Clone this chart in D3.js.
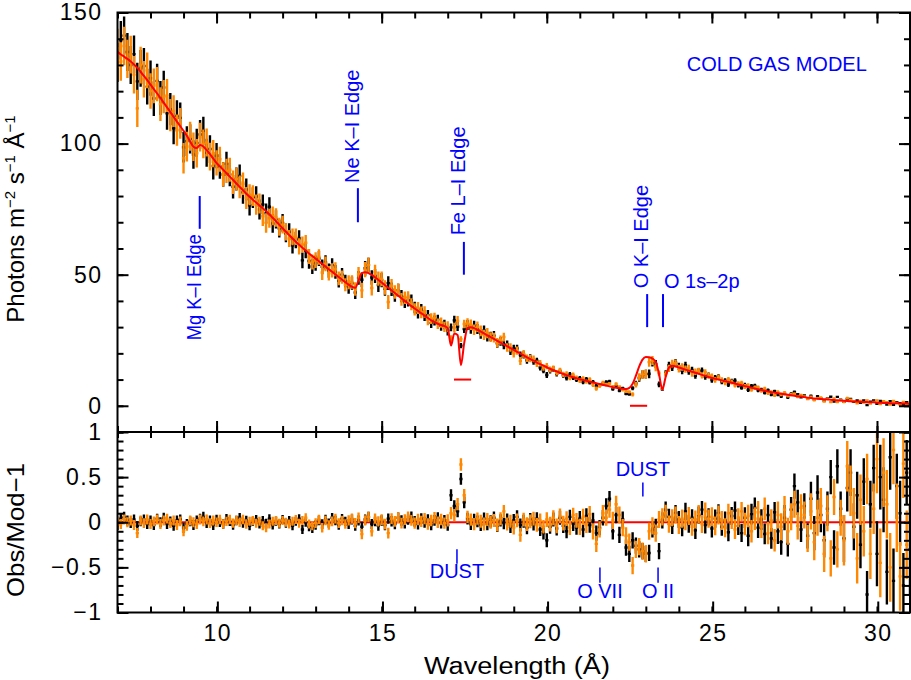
<!DOCTYPE html>
<html>
<head>
<meta charset="utf-8">
<script src="https://cdn.jsdelivr.net/npm/d3@7/dist/d3.min.js"></script>
<style>
  body { margin: 0; background: #fff; }
  text { font-family: "Liberation Sans", Arial, Helvetica, sans-serif; }
</style>
</head>
<body>
<svg id="chart" width="911" height="680"></svg>
<script>
// spectral bins: 0.1 A wide, starting at 7 A
const waveStart = 7.0;
const waveStep = 0.1;

// cold gas model, photons m^-2 s^-1 A^-1, one value per bin
const modelFlux = [
  135.0, 134.0, 133.2, 132.3, 131.3, 130.2, 128.9, 127.4, 125.8, 124.2,
  122.5, 120.8, 119.1, 117.4, 115.6, 113.8, 112.0, 110.2, 108.4, 106.6,
  104.9, 103.0, 100.8, 98.8, 98.3, 99.5, 98.9, 97.5, 96.0, 94.3,
  92.6, 91.3, 90.0, 88.7, 87.4, 86.1, 84.8, 83.5, 82.2, 80.9,
  79.7, 78.6, 77.5, 76.4, 75.3, 74.2, 73.0, 71.7, 70.4, 69.0,
  67.7, 66.4, 65.1, 63.8, 62.6, 61.4, 60.3, 59.2, 58.1, 57.1,
  56.1, 55.1, 54.1, 53.1, 52.1, 51.1, 50.1, 49.1, 48.1, 47.1,
  46.2, 45.4, 45.0, 47.8, 50.6, 50.9, 50.6, 49.9, 49.0, 48.0,
  47.0, 46.0, 45.0, 44.0, 43.0, 42.0, 41.0, 40.0, 39.0, 38.0,
  37.1, 36.2, 35.3, 34.4, 33.5, 32.6, 31.9, 31.3, 30.8, 30.4,
  29.6, 23.0, 27.6, 27.0, 15.5, 24.0, 29.6, 30.0, 29.6, 29.0,
  28.3, 27.6, 26.9, 26.2, 25.5, 24.8, 24.1, 23.4, 22.7, 22.0,
  21.3, 20.6, 19.9, 19.2, 18.5, 17.8, 17.2, 16.5, 15.9, 15.3,
  14.7, 14.1, 13.6, 13.1, 12.6, 12.1, 11.7, 11.3, 10.9, 10.5,
  10.1, 9.8, 9.5, 9.2, 8.9, 8.6, 8.3, 8.0, 7.7, 7.4,
  7.1, 6.9, 6.7, 6.5, 6.4, 6.8, 8.4, 11.5, 15.0, 17.6,
  18.6, 18.5, 18.0, 16.8, 12.0, 6.2, 11.0, 14.6, 15.3, 15.0,
  14.6, 14.2, 13.8, 13.4, 13.0, 12.6, 12.2, 11.8, 11.4, 11.0,
  10.6, 10.3, 10.0, 9.7, 9.4, 9.1, 8.8, 8.5, 8.1, 7.8,
  7.5, 7.2, 6.9, 6.6, 6.3, 6.0, 5.7, 5.5, 5.2, 5.0,
  4.8, 4.6, 4.4, 4.2, 4.0, 3.8, 3.6, 3.5, 3.3, 3.1,
  3.0, 2.8, 2.7, 2.6, 2.5, 2.4, 2.3, 2.2, 2.1, 2.0,
  1.9, 1.8, 1.7, 1.6, 1.6, 1.5, 1.4, 1.4, 1.3, 1.3,
  1.2, 1.2, 1.1, 1.1, 1.0, 1.0, 1.0, 0.9, 0.9, 0.9,
  0.8,
];

// Obs/Mod-1 for the black data set
const blackResid = [
  -0.03, 0.04, 0.06, 0.02, -0.01, 0.03, -0.04, 0.01, 0.03, -0.02,
  0.02, -0.03, 0.04, 0.00, 0.05, -0.02, 0.01, -0.04, 0.02, 0.03,
  -0.06, -0.02, 0.01, -0.03, 0.02, 0.04, 0.06, -0.01, 0.02, -0.03,
  0.03, 0.00, -0.02, 0.04, 0.01, -0.03, 0.02, 0.05, -0.01, 0.02,
  -0.04, 0.01, 0.03, -0.02, 0.02, -0.01, 0.04, -0.03, 0.01, -0.02,
  0.03, -0.01, 0.02, -0.04, 0.01, 0.04, -0.08, 0.00, -0.05, -0.07,
  -0.03, 0.02, -0.02, 0.03, -0.01, 0.05, 0.02, -0.03, 0.04, 0.01,
  -0.02, 0.03, -0.04, 0.02, -0.05, 0.03, 0.06, -0.02, 0.01, -0.04,
  0.02, -0.03, 0.04, 0.01, -0.02, 0.05, 0.02, -0.01, 0.03, 0.06,
  0.01, -0.02, 0.04, 0.00, 0.03, -0.03, 0.02, 0.05, -0.01, 0.02,
  -0.03, 0.30, 0.18, 0.12, 0.48, 0.22, 0.04, -0.02, 0.03, 0.01,
  -0.03, 0.04, -0.02, 0.01, 0.05, -0.04, 0.02, -0.01, 0.03, -0.05,
  0.02, 0.06, -0.03, 0.01, -0.06, 0.03, -0.02, 0.04, -0.08, -0.12,
  -0.20, -0.05, 0.03, -0.07, 0.05, -0.04, -0.10, 0.06, -0.02, -0.06,
  0.04, -0.08, 0.07, -0.03, 0.02, -0.12, -0.06, 0.05, 0.18, 0.26,
  -0.10, 0.08, -0.14, 0.03, -0.28, -0.35, -0.20, -0.26, -0.30, -0.32,
  -0.35, -0.34, -0.08, -0.05, -0.32, 0.02, 0.14, 0.06, -0.04, 0.10,
  0.03, -0.06, 0.12, -0.02, 0.05, -0.09, 0.08, 0.14, -0.03, 0.06,
  -0.07, 0.04, 0.10, -0.05, 0.02, -0.11, 0.07, 0.13, -0.04, -0.12,
  0.05, -0.15, 0.09, 0.16, -0.06, 0.03, -0.13, 0.08, -0.18, 0.11,
  -0.10, -0.22, 0.05, -0.24, 0.14, 0.40, 0.22, -0.08, 0.18, -0.15,
  0.26, -0.12, 0.33, 0.08, -0.20, 0.15, 0.50, -0.28, 0.62, 0.15,
  -0.18, 0.38, 0.55, -0.05, 0.30, -0.25, 0.45, -0.80, 0.20, 0.60,
  -0.35, 0.50, 0.25, -0.55, 0.72, -0.65, 0.40, 0.10, -0.70, 0.55,
  -0.30,
];

// Obs/Mod-1 for the orange data set
const orangeResid = [
  0.01, -0.02, 0.03, 0.00, 0.02, -0.03, -0.12, 0.02, -0.01, 0.03,
  -0.02, 0.01, 0.03, -0.02, 0.02, 0.04, -0.01, 0.02, -0.03, 0.01,
  -0.10, -0.04, 0.02, 0.00, -0.02, 0.03, 0.01, 0.03, -0.01, 0.02,
  0.00, 0.03, -0.02, 0.01, 0.03, -0.01, 0.02, 0.00, 0.03, -0.02,
  0.01, 0.02, -0.01, 0.01, -0.04, -0.06, -0.02, 0.01, 0.02, -0.01,
  0.02, 0.00, -0.02, 0.01, 0.03, -0.01, 0.02, 0.05, -0.02, -0.04,
  -0.01, 0.03, -0.06, 0.02, -0.03, 0.01, 0.04, -0.01, 0.02, -0.02,
  0.02, 0.04, -0.01, 0.05, -0.13, 0.02, 0.06, -0.10, 0.04, 0.01,
  0.03, -0.02, -0.12, 0.04, 0.01, 0.05, -0.01, 0.03, 0.06, 0.02,
  -0.01, 0.03, 0.01, 0.04, -0.02, 0.02, 0.05, 0.00, 0.03, -0.01,
  0.02, 0.10, 0.08, 0.20, 0.64, 0.30, 0.06, 0.03, -0.02, 0.04,
  0.01, -0.02, 0.03, 0.00, 0.02, -0.03, 0.04, 0.12, -0.02, 0.01,
  -0.06, 0.02, -0.14, 0.03, -0.02, 0.01, 0.04, -0.03, 0.02, -0.05,
  0.03, -0.02, 0.05, -0.04, 0.07, -0.01, 0.04, -0.06, 0.08, 0.02,
  -0.05, 0.06, -0.03, 0.09, -0.10, -0.24, -0.08, 0.10, 0.05, 0.14,
  0.02, 0.20, 0.08, -0.06, -0.15, -0.22, -0.48, -0.30, -0.27, -0.32,
  -0.35, -0.10, -0.04, -0.12, 0.03, 0.06, 0.10, -0.02, 0.05, 0.08,
  -0.03, 0.04, 0.01, 0.07, -0.05, 0.03, 0.09, -0.02, 0.12, 0.04,
  0.06, -0.04, 0.08, 0.02, -0.06, 0.10, 0.03, -0.08, 0.05, 0.12,
  -0.02, 0.07, -0.10, 0.04, 0.11, -0.05, 0.15, -0.12, 0.02, -0.20,
  0.08, -0.05, 0.14, -0.10, 0.06, 0.20, -0.04, 0.16, 0.08, -0.18,
  0.12, -0.22, 0.05, 0.18, -0.35, 0.10, -0.40, 0.28, -0.30, 0.05,
  -0.20, 0.62, 0.35, 0.10, -0.40, 0.25, -0.10, 0.48, -0.35, 0.15,
  0.70, -0.45, 0.55, 0.20, -0.50, 0.80, 0.05, -0.60, 0.65, -0.25,
  0.40,
];

// fractional 1-sigma errors, one value per whole angstrom from 7 to 31
const errStart = 7;
const blackRelErr = [0.055, 0.055, 0.055, 0.052, 0.05, 0.05, 0.052, 0.055, 0.058, 0.06, 0.065, 0.068,
  0.072, 0.078, 0.085, 0.09, 0.09, 0.095, 0.1, 0.115, 0.14, 0.19, 0.26, 0.36, 0.5];
const orangeRelErr = [0.055, 0.055, 0.055, 0.052, 0.05, 0.05, 0.053, 0.057, 0.06, 0.063, 0.068, 0.072,
  0.076, 0.082, 0.09, 0.095, 0.095, 0.1, 0.105, 0.125, 0.15, 0.2, 0.28, 0.38, 0.5];

const waveTicks = [10, 15, 20, 25, 30];
const fluxTicks = [0, 50, 100, 150];
const residTicks = [-1, -0.5, 0, 0.5, 1];

// absorption edges marked in the upper panel
const edgeNames = ['Mg K\u2013I Edge', 'Ne K\u2013I Edge', 'Fe L\u2013I Edge', 'O K\u2013I Edge'];
const edgeWaves = [9.49, 14.28, 17.49, 23.04];
const edgeBarLow = [67.5, 70, 50, 30];
const edgeBarHigh = [80, 83, 62.5, 42.6];
const edgeTextFrom = [25, 85, 65, 44.8];

// features marked in the ratio panel
const residNames = ['DUST', 'DUST', 'O VII', 'O II'];
const residWaves = [17.28, 22.91, 21.61, 23.37];
const residBarLow = [-0.46, 0.285, -0.67, -0.67];
const residBarHigh = [-0.30, 0.44, -0.50, -0.50];
const residTextAt = [-0.623, 0.507, -0.834, -0.834];

const svg = d3.select('#chart');
const frameLeft = 117.5;
const frameRight = 910;
const frameTop = 12.5;
const frameSplit = 432;
const frameBottom = 612.5;

const x = d3.scaleLinear().domain([7, 31]).range([frameLeft, frameRight]);
const yFlux = d3.scaleLinear().domain([-10, 150]).range([frameSplit, frameTop]);
const yRes = d3.scaleLinear().domain([-1, 1]).range([frameBottom, frameSplit]);

const makeSeries = (resid, relErr) => resid.map((r, i) => {
    const wave = waveStart + i * waveStep;
    const model = modelFlux[i];
    const e = relErr[Math.floor(wave + 1e-6) - errStart];
    return {
        wave,
        flux: model * (1 + r),
        fluxErr: model * e,
        resid: r,
        residErr: e,
    };
});

const black = makeSeries(blackResid, blackRelErr);
const orange = makeSeries(orangeResid, orangeRelErr);
const bins = modelFlux.map((m, i) => ({ wave: waveStart + i * waveStep, model: m }));

// bin width + error bar for every point, as one path
const crossPath = (pts, y, val, err) => {
    const p = d3.path();
    pts.forEach((d) => {
        const yc = y(d[val]);
        p.moveTo(x(d.wave - waveStep / 2), yc);
        p.lineTo(x(d.wave + waveStep / 2), yc);
        p.moveTo(x(d.wave), y(d[val] - d[err]));
        p.lineTo(x(d.wave), y(d[val] + d[err]));
    });
    return p.toString();
};

const defs = svg.append('defs');
defs.append('clipPath').attr('id', 'clip-top')
    .append('rect').attr('x', frameLeft).attr('y', frameTop)
    .attr('width', frameRight - frameLeft).attr('height', frameSplit - frameTop);
defs.append('clipPath').attr('id', 'clip-bot')
    .append('rect').attr('x', frameLeft).attr('y', frameSplit)
    .attr('width', frameRight - frameLeft).attr('height', frameBottom - frameSplit);

const orangeCol = '#ff8800';
const dataWidth = 2.4;

// upper panel: data, then model on top
const topG = svg.append('g').attr('clip-path', 'url(#clip-top)');
topG.append('path').attr('d', crossPath(black, yFlux, 'flux', 'fluxErr'))
    .attr('stroke', '#000').attr('stroke-width', dataWidth).attr('fill', 'none');
topG.append('path').attr('d', crossPath(orange, yFlux, 'flux', 'fluxErr'))
    .attr('stroke', orangeCol).attr('stroke-width', dataWidth).attr('fill', 'none');
topG.append('path').datum(bins)
    .attr('d', d3.line().x((d) => x(d.wave)).y((d) => yFlux(d.model)).curve(d3.curveMonotoneX))
    .attr('stroke', '#ff0000').attr('stroke-width', 2).attr('fill', 'none');

// lower panel: unity line under the data
const botG = svg.append('g').attr('clip-path', 'url(#clip-bot)');
botG.append('path').datum(bins)
    .attr('d', d3.line().x((d) => x(d.wave)).y(() => yRes(0)))
    .attr('stroke', '#ff0000').attr('stroke-width', 2).attr('fill', 'none');
botG.append('path').attr('d', crossPath(black, yRes, 'resid', 'residErr'))
    .attr('stroke', '#000').attr('stroke-width', dataWidth).attr('fill', 'none');
botG.append('path').attr('d', crossPath(orange, yRes, 'resid', 'residErr'))
    .attr('stroke', orangeCol).attr('stroke-width', dataWidth).attr('fill', 'none');

// axes: every tick points into the frame
const addAxis = (axis, tx, ty) => svg.append('g')
    .attr('transform', `translate(${tx},${ty})`)
    .call(axis)
    .call((g) => g.select('.domain').remove())
    .call((g) => g.selectAll('line').attr('stroke', '#000').attr('stroke-width', 2))
    .call((g) => g.selectAll('text').attr('fill', '#000')
        .style('font-size', '23px')
        .style('letter-spacing', '1.5px')
        .style('font-family', '"Liberation Sans", Arial, sans-serif'));

const noLabel = () => '';
const minorWave = x.ticks(24);

[[frameTop, d3.axisTop], [frameSplit, d3.axisBottom], [frameSplit, d3.axisTop]].forEach(([ty, mk]) => {
    addAxis(mk(x).tickValues(waveTicks).tickSize(-11).tickFormat(noLabel), 0, ty);
    addAxis(mk(x).tickValues(minorWave).tickSize(-6).tickFormat(noLabel), 0, ty);
});
addAxis(d3.axisBottom(x).tickValues(waveTicks).tickSize(-11).tickPadding(12)
    .tickFormat(d3.format('d')), 0.8, frameBottom);
addAxis(d3.axisBottom(x).tickValues(minorWave).tickSize(-6).tickFormat(noLabel), 0, frameBottom);

addAxis(d3.axisLeft(yFlux).tickValues(fluxTicks).tickSize(-11).tickPadding(15)
    .tickFormat(d3.format('d')), frameLeft, 0);
addAxis(d3.axisLeft(yFlux).tickValues(yFlux.ticks(16)).tickSize(-6).tickFormat(noLabel), frameLeft, 0);
addAxis(d3.axisRight(yFlux).tickValues(fluxTicks).tickSize(-11).tickFormat(noLabel), frameRight, 0);
addAxis(d3.axisRight(yFlux).tickValues(yFlux.ticks(16)).tickSize(-6).tickFormat(noLabel), frameRight, 0);

addAxis(d3.axisLeft(yRes).tickValues(residTicks).tickSize(-11).tickPadding(15)
    .tickFormat(d3.format('')), frameLeft, 0);
addAxis(d3.axisLeft(yRes).tickValues(yRes.ticks(20)).tickSize(-6).tickFormat(noLabel), frameLeft, 0);
addAxis(d3.axisRight(yRes).tickValues(residTicks).tickSize(-11).tickFormat(noLabel), frameRight, 0);
addAxis(d3.axisRight(yRes).tickValues(yRes.ticks(20)).tickSize(-6).tickFormat(noLabel), frameRight, 0);

// frames
svg.append('rect').attr('x', frameLeft).attr('y', frameTop)
    .attr('width', frameRight - frameLeft).attr('height', frameBottom - frameTop)
    .attr('fill', 'none').attr('stroke', '#000').attr('stroke-width', 2);
svg.append('line').attr('x1', frameLeft).attr('x2', frameRight)
    .attr('y1', frameSplit).attr('y2', frameSplit)
    .attr('stroke', '#000').attr('stroke-width', 2);

// axis titles
svg.append('text').attr('x', 517).attr('y', 674)
    .attr('text-anchor', 'middle').style('font-size', '23px')
    .attr('textLength', 186).attr('lengthAdjust', 'spacingAndGlyphs')
    .text('Wavelength (\u00c5)');

const yTitle = svg.append('text')
    .attr('transform', `translate(24,219) rotate(-90)`)
    .attr('text-anchor', 'middle').style('font-size', '24px');
[['Photons m', 0], ['\u22122', 1], [' s', 0], ['\u22121', 1], [' \u00c5', 0], ['\u22121', 1]]
    .forEach(([t, sup]) => {
        yTitle.append('tspan').text(t)
            .attr('dy', sup ? -9 : (t === 'Photons m' ? 0 : 9))
            .style('font-size', sup ? '15px' : '24px');
    });

svg.append('text')
    .attr('transform', `translate(24,530) rotate(-90)`)
    .attr('text-anchor', 'middle').style('font-size', '24px')
    .attr('textLength', 134).attr('lengthAdjust', 'spacingAndGlyphs')
    .text('Obs/Mod\u22121');

// annotations
const blue = '#0000ff';
const note = svg.append('g').attr('fill', blue).style('font-size', '20px');

svg.append('text').attr('x', x(24.24)).attr('y', yFlux(127.7))
    .attr('fill', blue).style('font-size', '20px').text('COLD GAS MODEL');

edgeNames.forEach((name, i) => {
    const xe = x(edgeWaves[i]);
    svg.append('line').attr('x1', xe).attr('x2', xe)
        .attr('y1', yFlux(edgeBarLow[i])).attr('y2', yFlux(edgeBarHigh[i]))
        .attr('stroke', blue).attr('stroke-width', 2);
    const label = note.append('text')
        .attr('transform', `translate(${xe + 1},${yFlux(edgeTextFrom[i])}) rotate(-90)`)
        .text(name);
    // the Mg label sits below its marker and is set a little tighter
    if (i === 0) label.attr('textLength', 106).attr('lengthAdjust', 'spacingAndGlyphs');
});

// O 1s-2p resonance, labelled horizontally
const o1s = 23.52;
svg.append('line').attr('x1', x(o1s)).attr('x2', x(o1s))
    .attr('y1', yFlux(30)).attr('y2', yFlux(42.6))
    .attr('stroke', blue).attr('stroke-width', 2);
note.append('text').attr('x', x(23.55)).attr('y', yFlux(44.8)).text('O 1s\u20132p');

// model edge-depth markers
[[17.19, 17.71, 10], [22.52, 23.04, 0]].forEach(([w0, w1, f]) => {
    svg.append('line').attr('x1', x(w0)).attr('x2', x(w1))
        .attr('y1', yFlux(f)).attr('y2', yFlux(f))
        .attr('stroke', '#ff0000').attr('stroke-width', 2);
});

residNames.forEach((name, i) => {
    const xr = x(residWaves[i]);
    svg.append('line').attr('x1', xr).attr('x2', xr)
        .attr('y1', yRes(residBarLow[i])).attr('y2', yRes(residBarHigh[i]))
        .attr('stroke', blue).attr('stroke-width', 1.5);
    note.append('text').attr('x', xr).attr('y', yRes(residTextAt[i]))
        .attr('text-anchor', 'middle').text(name);
});
</script>
</body>
</html>
